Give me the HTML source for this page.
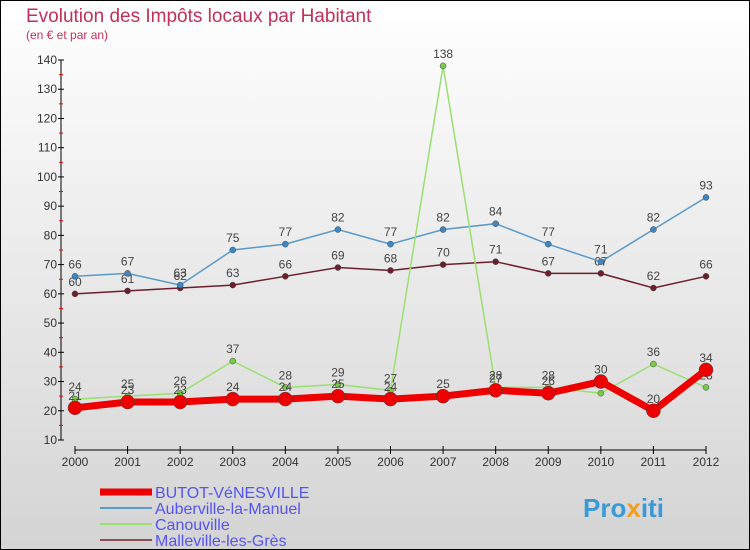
<!DOCTYPE html>
<html><head><meta charset="utf-8"><style>
body{margin:0}
svg{display:block;font-family:"Liberation Sans",sans-serif}
</style></head><body>
<svg id="c" width="750" height="550" viewBox="0 0 750 550">
<defs><linearGradient id="bg" x1="0" y1="0" x2="0" y2="1"><stop offset="0" stop-color="#ffffff"/><stop offset="1" stop-color="#d4d4d4"/></linearGradient></defs>
<rect x="0.5" y="0.5" width="749" height="549" fill="url(#bg)" stroke="#000"/>
<text x="26" y="22" font-size="19" fill="#c0305a">Evolution des Impôts locaux par Habitant</text>
<text x="26" y="39" font-size="12" fill="#c0305a">(en € et par an)</text>
<g id="axes"></g>
<g id="series"></g>
<g id="legend"></g>
<text x="583" y="517" font-size="26" font-weight="bold" fill="#3a9ad8">Pro<tspan fill="#f0a020">x</tspan>iti</text>
</svg>
<script>
const years=["2000","2001","2002","2003","2004","2005","2006","2007","2008","2009","2010","2011","2012"];
const yTicks=[10,20,30,40,50,60,70,80,90,100,110,120,130,140];
const butot=[21,23,23,24,24,25,24,25,27,26,30,20,34];
const auberville=[66,67,63,75,77,82,77,82,84,77,71,82,93];
const canouville=[24,25,26,37,28,29,27,138,28,28,26,36,28];
const malleville=[60,61,62,63,66,69,68,70,71,67,67,62,66];
const names=["BUTOT-VéNESVILLE","Auberville-la-Manuel","Canouville","Malleville-les-Grès"];
const NS="http://www.w3.org/2000/svg";
const X=i=>75+i*(706-75)/(years.length-1);
const Y=v=>440-(v-10)*(380/130);
function mk(p,t,a){const e=document.createElementNS(NS,t);for(const k in a)e.setAttribute(k,a[k]);p.appendChild(e);return e;}
const ax=document.getElementById('axes');
let yl=mk(ax,'line',{x1:61,y1:Y(140),x2:61,y2:Y(10),stroke:'#000'});


yTicks.forEach(v=>{
  mk(ax,'line',{x1:58,x2:64,y1:Y(v),y2:Y(v),stroke:'#000'});
  if(v<140)mk(ax,'line',{x1:59,x2:63,y1:Y(v+5),y2:Y(v+5),stroke:'#e00'});
  const t=mk(ax,'text',{x:57,y:Y(v)+4,'font-size':12,'text-anchor':'end',fill:'#333'});t.textContent=v;
  
  
});
let xl=mk(ax,'line',{x1:75,y1:450,x2:706,y2:450,stroke:'#000'});


years.forEach((y,i)=>{
  mk(ax,'line',{x1:X(i),x2:X(i),y1:446,y2:454,stroke:'#000'});
  const t=mk(ax,'text',{x:X(i),y:466,'font-size':12,'text-anchor':'middle',fill:'#333'});t.textContent=y;
  
  
});
const sg=document.getElementById('series');
const series=[
 {d:malleville,c:'#6b1f2a',w:1.5,r:3,n:'malleville'},
 {d:auberville,c:'#5a9ac8',w:1.5,r:3,n:'auberville'},
 {d:canouville,c:'#99e070',w:1.5,r:3,n:'canouville'},
 {d:butot,c:'#ee0000',w:7,r:7,n:'butot'}];
series.forEach(s=>{
  const g=mk(sg,'g',{});
  
  
  mk(g,'polyline',{points:s.d.map((v,i)=>X(i)+','+Y(v)).join(' '),fill:'none',stroke:s.c,'stroke-width':s.w});
  s.d.forEach((v,i)=>{
    const c=mk(g,'circle',{cx:X(i),cy:Y(v),r:s.r,fill:s.c==='#99e070'?'#77cc44':(s.c==='#5a9ac8'?'#3a88c8':s.c),stroke:'#444','stroke-width':0.5});
    
    
    const t=mk(g,'text',{x:X(i),y:Y(v)-8,'font-size':12,'text-anchor':'middle',fill:'#444'});t.textContent=v;
  });
});
const lg=document.getElementById('legend');
const lc=['#ee0000','#5a9ac8','#99e070','#8a5050'],lw=[7,2,2,2];
names.forEach((n,i)=>{
  const y=492+i*16;
  const g=mk(lg,'g',{});
  
  
  mk(g,'line',{x1:100,x2:152,y1:y,y2:y,stroke:lc[i],'stroke-width':lw[i]});
  const t=mk(g,'text',{x:155,y:y+6,'font-size':16,fill:'#5555ee'});t.textContent=n;
});
</script>
</body></html>
